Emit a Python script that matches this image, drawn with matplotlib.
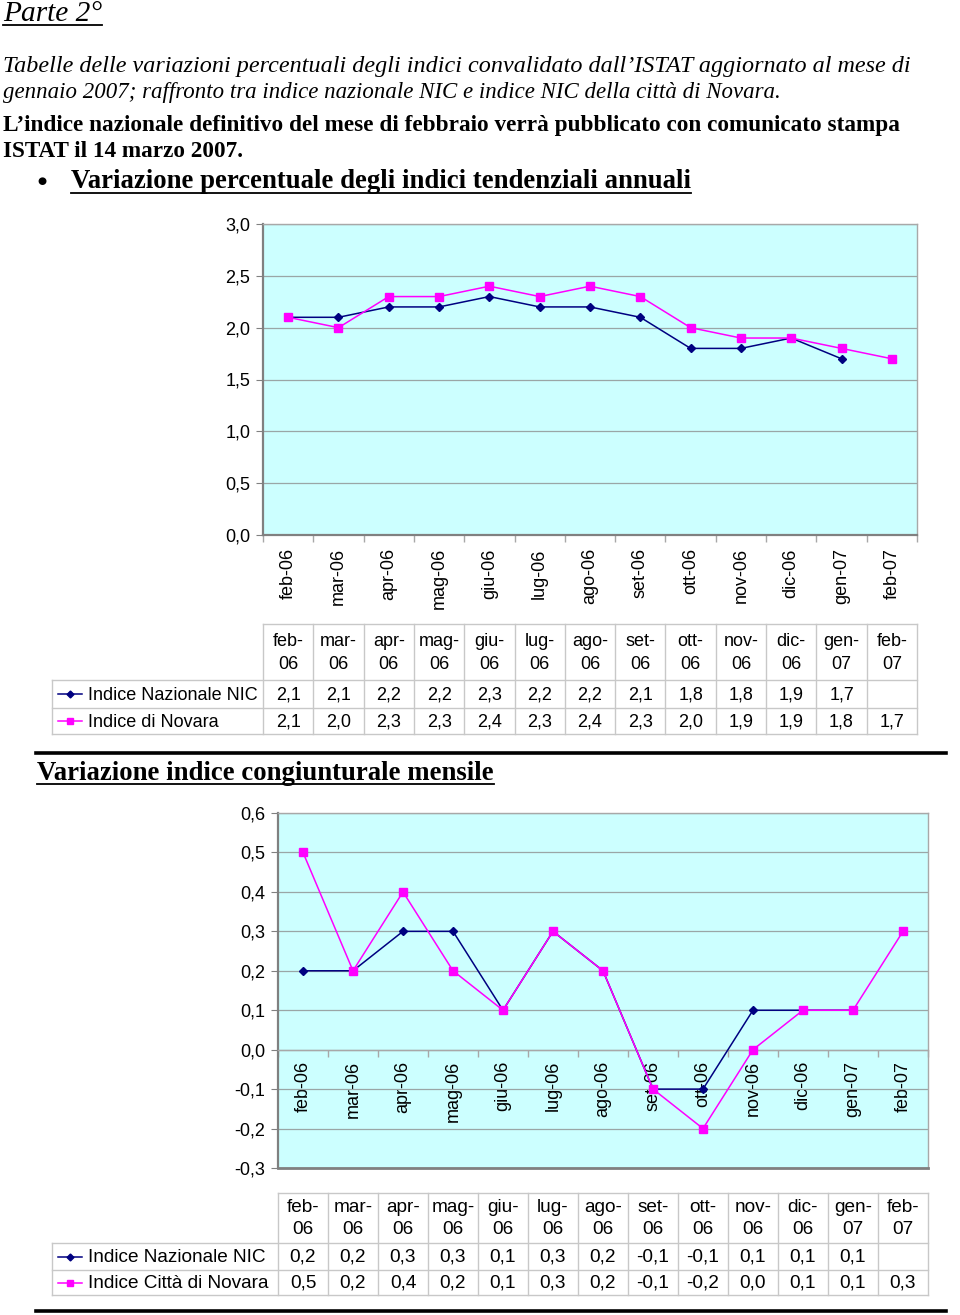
# plot.py
# Page "Parte 2°": NIC nazionale vs NIC Novara, two charts with data tables
#===========================================================================

import matplotlib as mpl
mpl.use('Agg')
import numpy as np
import matplotlib.pyplot as plt

SERIF = 'Liberation Serif'
SANS = 'Liberation Sans'
mpl.rcParams['font.family'] = SANS

#=============
# Data
#=============
months = ['feb-06', 'mar-06', 'apr-06', 'mag-06', 'giu-06', 'lug-06', 'ago-06',
          'set-06', 'ott-06', 'nov-06', 'dic-06', 'gen-07', 'feb-07']

# variazione tendenziale annua
annual_nic = [2.1, 2.1, 2.2, 2.2, 2.3, 2.2, 2.2, 2.1, 1.8, 1.8, 1.9, 1.7, np.nan]
annual_nov = [2.1, 2.0, 2.3, 2.3, 2.4, 2.3, 2.4, 2.3, 2.0, 1.9, 1.9, 1.8, 1.7]

# variazione congiunturale mensile
month_nic = [0.2, 0.2, 0.3, 0.3, 0.1, 0.3, 0.2, -0.1, -0.1, 0.1, 0.1, 0.1, np.nan]
month_nov = [0.5, 0.2, 0.4, 0.2, 0.1, 0.3, 0.2, -0.1, -0.2, 0.0, 0.1, 0.1, 0.3]

names1 = ['Indice Nazionale NIC', 'Indice di Novara']
names2 = ['Indice Nazionale NIC', 'Indice Città di Novara']

#=============
# Styles
#=============
navy = '#000080'
magenta = '#FF00FF'
bgcol = '#CCFFFF'
gridcol = '#9AA6A6'
spinecol = '#808080'
tabcol = '#C8C8C8'

W, H = 960, 1315
fig = plt.figure(figsize=(W/100.0, H/100.0), dpi=100)

# page axes in pixel coordinates (origin top-left)
page = fig.add_axes([0, 0, 1, 1], zorder=0)
page.set_xlim(0, W)
page.set_ylim(H, 0)
page.axis('off')

renderer = fig.canvas.get_renderer()


def fmt(v):
    if np.isnan(v):
        return ''
    return ('%.1f' % v).replace('.', ',')


def fit_text(x, y, s, width, underline=None, **kw):
    # size a line of text so that it spans the given width (in px)
    t = page.text(x, y, s, fontsize=16, va='baseline', ha='left', **kw)
    w = t.get_window_extent(renderer).width
    t.set_fontsize(16 * width / w)
    if underline is not None:
        bb = t.get_window_extent(renderer)
        page.plot([bb.x0, bb.x1], [y + underline, y + underline], color='k', lw=1.3)
    return t


def px_axes(left, top, right, bottom):
    return fig.add_axes([left/W, 1 - bottom/H, (right-left)/W, (bottom-top)/H], zorder=2)


#==================================
# Header text
#==================================
fit_text(3, 21, 'Parte 2°', 99, underline=4, family=SERIF, style='italic')
fit_text(3, 72, 'Tabelle delle variazioni percentuali degli indici convalidato '
         'dall\u2019ISTAT aggiornato al mese di', 903, family=SERIF, style='italic')
fit_text(3, 98, 'gennaio 2007; raffronto tra indice nazionale NIC e indice NIC '
         'della città di Novara.', 776, family=SERIF, style='italic')
fit_text(3, 131, 'L\u2019indice nazionale definitivo del mese di febbraio verrà '
         'pubblicato con comunicato stampa', 903, family=SERIF, weight='bold')
fit_text(3, 157, 'ISTAT il 14 marzo 2007.', 240, family=SERIF, weight='bold')
page.text(42, 181, '\u25CF', fontsize=7.5, family='DejaVu Sans', ha='center', va='center')
fit_text(71, 188, 'Variazione percentuale degli indici tendenziali annuali', 621,
         underline=5, family=SERIF, weight='bold')
fit_text(37, 780, 'Variazione indice congiunturale mensile', 457,
         underline=4, family=SERIF, weight='bold')

# thick rules
page.plot([36, 946], [753, 753], color='k', lw=2.6)
page.plot([36, 946], [1311, 1311], color='k', lw=2.6)


def style_axes(ax):
    ax.set_facecolor(bgcol)
    ax.set_xlim(-0.5, len(months) - 0.5)
    for side in ['top', 'right']:
        ax.spines[side].set_color('#A8A8A8')
        ax.spines[side].set_linewidth(1.0)
    for side in ['left', 'bottom']:
        ax.spines[side].set_color(spinecol)
        ax.spines[side].set_linewidth(1.6)
    ax.grid(axis='y', color=gridcol, lw=0.9)
    ax.set_axisbelow(True)
    ax.tick_params(axis='y', length=5, color=spinecol, labelsize=13, pad=4)
    ax.set_xticks(np.arange(len(months)))
    ax.set_xticks(np.arange(len(months) + 1) - 0.5, minor=True)
    ax.tick_params(axis='x', which='major', length=0)
    ax.tick_params(axis='x', which='minor', length=5, color='#A8A8A8', width=1.0)


def draw_series(ax, nic, nov):
    x = np.arange(len(months))
    ax.plot(x, nic, color=navy, lw=1.1, marker='D', ms=4.5, zorder=3)
    ax.plot(x, nov, color=magenta, lw=1.1, marker='s', ms=5.5, zorder=3)


#==================================
# Chart 1: tendenziali annuali
#==================================
ax1 = px_axes(263, 224, 917, 535)
style_axes(ax1)
draw_series(ax1, annual_nic, annual_nov)
ax1.set_ylim(0, 3.0)
yt1 = np.arange(0, 3.01, 0.5)
ax1.set_yticks(yt1)
ax1.set_yticklabels([fmt(v) for v in yt1])
ax1.set_xticklabels(months, rotation=90, fontsize=13)
ax1.tick_params(axis='x', which='major', pad=9.5)

#==================================
# Chart 2: congiunturale mensile
#==================================
ax2 = px_axes(278, 813, 928, 1168)
style_axes(ax2)
draw_series(ax2, month_nic, month_nov)
ax2.set_ylim(-0.3, 0.6)
yt2 = np.arange(-0.3, 0.61, 0.1)
ax2.set_yticks(yt2)
ax2.set_yticklabels([fmt(v) for v in yt2])
ax2.spines['bottom'].set_position(('data', 0))
ax2.spines['bottom'].set_color('#A8A8A8')
ax2.spines['bottom'].set_linewidth(1.0)
ax2.axhline(-0.3, color=spinecol, lw=2.0, clip_on=False, zorder=2.6)
ax2.set_xticklabels(months, rotation=90, fontsize=13)
ax2.tick_params(axis='x', which='major', pad=8)

#==================================
# Data tables
#==================================
def draw_table(left, right, head_top, row_edges, names, nic, nov, fs):
    n = len(months)
    cw = (right - left) / n
    edges = left + cw * np.arange(n + 1)
    centers = edges[:-1] + cw / 2
    head_bot = row_edges[0]
    bot = row_edges[-1]
    # header grid (data columns only)
    page.plot([left, right], [head_top, head_top], color=tabcol, lw=1)
    for xe in edges:
        page.plot([xe, xe], [head_top, bot], color=tabcol, lw=1)
    # row lines incl. legend column
    for ye in row_edges:
        page.plot([52, right], [ye, ye], color=tabcol, lw=1)
    page.plot([52, 52], [head_bot, bot], color=tabcol, lw=1)
    hmid = (head_top + head_bot) / 2
    for xc, m in zip(centers, months):
        mm, yy = m.split('-')
        page.text(xc, hmid - 11, mm + '-', fontsize=fs, ha='center', va='center')
        page.text(xc, hmid + 12, yy, fontsize=fs, ha='center', va='center')
    series = [(nic, navy, 'D', 3.5), (nov, magenta, 's', 4.5)]
    for k, (vals, col, mk, ms) in enumerate(series):
        yc = (row_edges[k] + row_edges[k+1]) / 2
        page.plot([58, 82], [yc, yc], color=col, lw=1.1)
        page.plot([70], [yc], color=col, marker=mk, ms=ms, ls='none')
        page.text(88, yc + 1, names[k], fontsize=fs, ha='left', va='center')
        for xc, v in zip(centers, vals):
            page.text(xc, yc + 1, fmt(v), fontsize=fs, ha='center', va='center')


draw_table(263, 917, 624, [680, 708, 734], names1, annual_nic, annual_nov, 13)
draw_table(278, 928, 1193, [1243, 1270, 1295], names2, month_nic, month_nov, 13.7)

fig.savefig('out.png', dpi=100)
